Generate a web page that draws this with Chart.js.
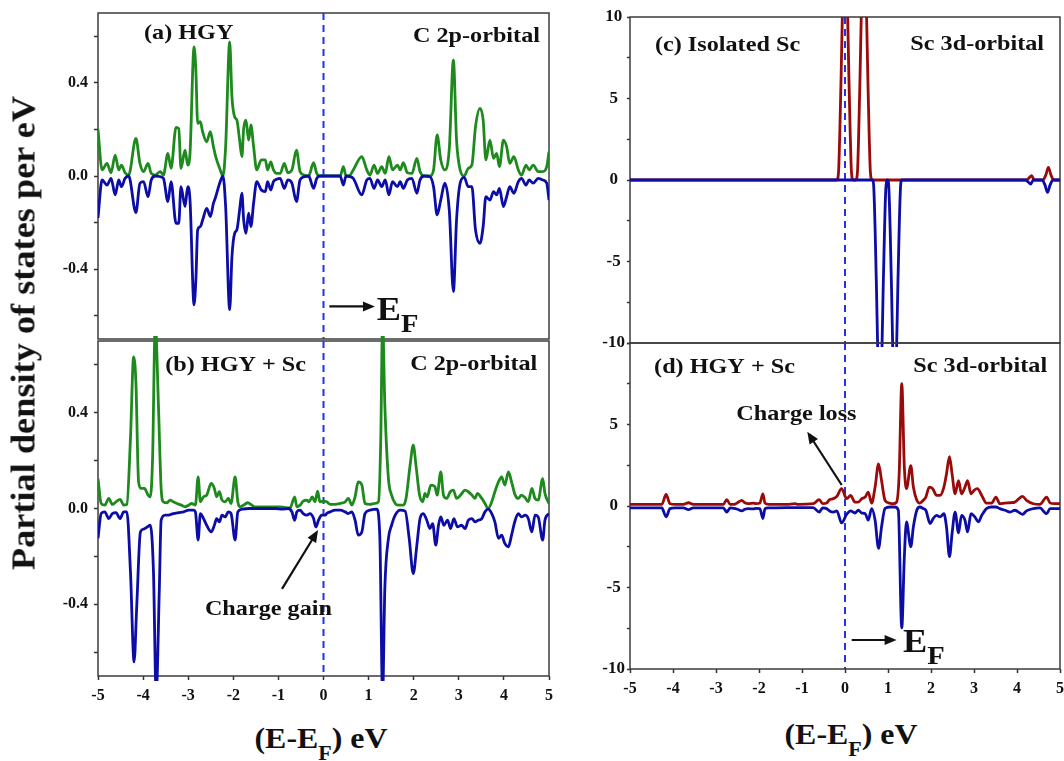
<!DOCTYPE html>
<html>
<head>
<meta charset="utf-8">
<title>PDOS: HGY and HGY + Sc</title>
<script src="https://cdn.jsdelivr.net/npm/chart.js@4.4.0/dist/chart.umd.min.js"></script>
<style>
  html, body { margin: 0; padding: 0; background: #fff; }
  #fig { position: relative; width: 1064px; height: 761px; overflow: hidden;
         font-family: 'Liberation Serif', 'Times New Roman', serif; font-weight: bold; color: #111; }
  #fig canvas { position: absolute; }
  .title { position: absolute; white-space: nowrap; line-height: 1; }
  #ytitle { left: 24px; top: 333px; font-size: 33px; transform: translate(-50%, -50%) rotate(-90deg) scaleX(1.1); }
  .xtitle { font-size: 29px; transform: translateX(-50%) scaleX(1.1); }
  .xtitle .sub { font-size: 20px; vertical-align: -12px; line-height: 1; }
  #xtitleL { left: 321px; top: 724px; }
  #xtitleR { left: 851px; top: 720px; }
</style>
</head>
<body>
<div id="fig">
  <canvas id="panelA"></canvas>
  <canvas id="panelB"></canvas>
  <canvas id="panelC"></canvas>
  <canvas id="panelD"></canvas>
  <div class="title" id="ytitle">Partial density of states per eV</div>
  <div class="title xtitle" id="xtitleL">(E-E<span class="sub">F</span>) eV</div>
  <div class="title xtitle" id="xtitleR">(E-E<span class="sub">F</span>) eV</div>
</div>
<script>
// ---- (a) HGY, C 2p : one energy grid for both spins ----
const energyA = [-5.00,-4.91,-4.80,-4.71,-4.62,-4.54,-4.48,-4.40,-4.32,-4.16,-4.07,-3.99,-3.89,-3.82,-3.73,-3.62,-3.55,-3.45,-3.38,-3.27,
  -3.21,-3.16,-3.07,-3.01,-2.96,-2.87,-2.83,-2.79,-2.73,-2.68,-2.59,-2.51,-2.44,-2.39,-2.29,-2.23,-2.17,-2.08,-2.03,-1.97,
  -1.92,-1.86,-1.81,-1.77,-1.72,-1.66,-1.61,-1.55,-1.48,-1.38,-1.29,-1.24,-1.17,-1.11,-1.04,-0.96,-0.87,-0.79,-0.70,-0.60,
  -0.52,-0.42,-0.33,-0.22,-0.15,-0.08,
  0.00,0.37,0.44,0.50,0.59,0.66,0.85,0.96,1.03,1.12,1.20,1.29,1.37,1.45,1.53,1.64,1.70,1.77,1.86,1.96,
  2.07,2.14,2.23,2.36,2.44,2.52,2.60,2.69,2.79,2.88,2.95,3.03,3.12,3.21,3.29,3.37,3.47,3.54,3.60,3.69,
  3.77,3.84,3.90,3.99,4.06,4.13,4.22,4.32,4.39,4.49,4.56,4.65,4.76,4.86,4.95,5.00];
const spinUpA = [0.20,0.026,0.054,0.014,0.09,0.026,0.047,0.014,0.004,0.161,0.054,0.019,0.054,0.011,0.004,0.019,0.004,0.097,0.033,0.209,
  0.204,0.033,0.111,0.047,0.097,0.554,0.454,0.226,0.233,0.19,0.147,0.19,0.126,0.083,0.026,0.0,0.126,0.576,0.34,0.254,
  0.24,0.154,0.083,0.204,0.24,0.154,0.219,0.126,0.026,0.069,0.069,0.026,0.061,0.026,0.011,0.011,0.054,0.014,0.026,0.111,
  0.019,0.004,0.0,0.057,0.011,0.0,
  0,0,0.04,0,0.004,0.026,0.083,0.026,0.004,0.047,0.011,0.04,0.011,0.083,0.026,0.047,0.026,0.057,0.014,0.011,
  0.076,0.019,0,0,0.026,0.176,0.069,0.026,0.12,0.497,0.154,0.026,0,0.033,0.047,0.211,0.29,0.24,0.069,0.154,
  0.076,0.097,0.04,0.154,0.126,0.054,0.083,0.026,0.004,0.047,0.026,0.047,0.019,0.019,0.04,0.104];
const spinDnA = [-0.18,-0.017,-0.039,-0.01,-0.081,-0.017,-0.046,-0.01,0,-0.157,-0.031,-0.024,-0.089,-0.017,0,-0.003,-0.01,-0.11,-0.024,-0.203,
  -0.203,-0.046,-0.131,-0.046,-0.103,-0.553,-0.446,-0.231,-0.217,-0.189,-0.139,-0.174,-0.117,-0.089,-0.024,0,-0.131,-0.574,-0.346,-0.246,
  -0.231,-0.146,-0.074,-0.189,-0.246,-0.16,-0.217,-0.117,-0.024,-0.06,-0.067,-0.024,-0.06,-0.024,-0.014,-0.01,-0.053,-0.017,-0.031,-0.11,
  -0.017,-0.003,0,-0.053,-0.01,0,
  0,0,-0.039,0,-0.003,-0.01,-0.081,-0.017,-0.01,-0.053,-0.017,-0.046,-0.017,-0.081,-0.024,-0.046,-0.024,-0.053,-0.017,-0.01,
  -0.074,-0.017,0,-0.003,-0.046,-0.167,-0.103,-0.031,-0.15,-0.496,-0.189,-0.031,-0.006,-0.046,-0.046,-0.231,-0.289,-0.217,-0.089,-0.103,
  -0.067,-0.081,-0.053,-0.131,-0.089,-0.046,-0.074,-0.024,-0.01,-0.039,-0.017,-0.031,-0.01,-0.017,-0.031,-0.103];

// ---- (b) HGY + Sc, C 2p ----
const energyUpB = [-5.00,-4.93,-4.85,-4.76,-4.68,-4.60,-4.51,-4.43,-4.36,-4.28,-4.21,-4.16,-4.10,-4.04,-3.97,-3.89,-3.84,-3.79,-3.73,-3.66,
  -3.60,-3.55,-3.47,-3.40,-3.33,-3.25,-3.15,-3.07,-2.99,-2.92,-2.84,-2.78,-2.73,-2.66,-2.59,-2.49,-2.42,-2.37,-2.31,-2.25,
  -2.18,-2.11,-2.05,-1.96,-1.90,-1.85,-1.75,-1.68,-1.59,-1.52,-1.37,-1.22,-1.07,-0.96,-0.85,-0.74,-0.64,-0.59,-0.52,-0.45,
  -0.37,-0.32,-0.25,-0.19,-0.13,-0.08,0.00,
  0.07,0.15,0.26,0.37,0.48,0.55,0.63,0.70,0.77,0.85,0.92,1.03,1.14,1.22,1.27,1.31,1.36,1.44,1.51,1.59,
  1.66,1.77,1.83,1.92,1.99,2.05,2.13,2.20,2.25,2.30,2.38,2.47,2.52,2.60,2.66,2.73,2.81,2.88,2.95,3.04,
  3.14,3.21,3.29,3.36,3.41,3.51,3.58,3.65,3.73,3.80,3.88,3.95,4.02,4.10,4.17,4.25,4.32,4.39,4.47,4.54,
  4.62,4.69,4.76,4.86,4.91,5.00];
const spinUpB = [0.125,0.021,0.014,0.042,0.017,0.028,0.038,0.014,0.017,0.293,0.634,0.53,0.111,0.084,0.084,0.056,0.049,0.209,0.78,0.432,
  0.084,0.028,0.024,0.035,0.028,0.021,0.014,0.007,0.014,0.021,0.014,0.132,0.028,0.049,0.056,0.105,0.084,0.049,0.07,0.035,
  0.028,0.042,0.021,0.132,0.028,0.007,0.017,0.024,0.014,0.007,0.007,0.007,0.007,0.007,0.004,0.003,0.049,0.007,0.014,0.031,
  0.035,0.028,0.049,0.028,0.072,0.028,0.031,
  0.028,0.017,0.017,0.021,0.028,0.042,0.014,0.049,0.111,0.098,0.021,0.017,0.021,0.028,0.293,0.78,0.432,0.125,0.056,0.021,
  0.014,0.014,0.042,0.181,0.265,0.181,0.056,0.028,0.063,0.049,0.098,0.091,0.056,0.153,0.056,0.042,0.07,0.077,0.042,0.056,
  0.077,0.07,0.056,0.042,0.063,0.042,0.021,0.0,0.028,0.07,0.111,0.132,0.098,0.153,0.111,0.056,0.042,0.056,0.045,0.028,
  0.084,0.042,0.035,0.125,0.063,0.021];
const energyDnB = [-5.00,-4.93,-4.85,-4.76,-4.68,-4.60,-4.51,-4.43,-4.36,-4.28,-4.20,-4.14,-4.06,-3.99,-3.91,-3.84,-3.77,-3.71,-3.64,-3.60,
  -3.51,-3.44,-3.33,-3.21,-3.10,-2.99,-2.88,-2.84,-2.78,-2.73,-2.66,-2.59,-2.49,-2.42,-2.37,-2.31,-2.25,-2.18,-2.11,-2.05,
  -1.96,-1.90,-1.81,-1.66,-1.52,-1.37,-1.22,-1.07,-0.92,-0.78,-0.70,-0.64,-0.59,-0.52,-0.45,-0.37,-0.30,-0.22,-0.17,-0.11,
  -0.04,
  0.04,0.07,0.15,0.26,0.37,0.48,0.55,0.63,0.70,0.77,0.85,0.92,1.03,1.18,1.25,1.31,1.36,1.44,1.51,1.59,
  1.70,1.81,1.90,1.99,2.07,2.14,2.21,2.29,2.36,2.42,2.49,2.55,2.60,2.67,2.75,2.82,2.89,2.97,3.06,3.14,
  3.21,3.29,3.36,3.43,3.51,3.58,3.65,3.73,3.80,3.88,3.95,4.02,4.10,4.17,4.25,4.32,4.39,4.47,4.54,4.62,
  4.69,4.76,4.86,4.91,5.00];
const spinDnB = [-0.125,-0.021,-0.014,-0.042,-0.021,-0.017,-0.042,-0.014,-0.014,-0.265,-0.641,-0.404,-0.098,-0.086,-0.077,-0.07,-0.265,-0.78,-0.334,-0.049,
  -0.028,-0.028,-0.021,-0.017,-0.014,-0.007,-0.007,-0.014,-0.132,-0.021,-0.042,-0.07,-0.098,-0.07,-0.042,-0.056,-0.028,-0.035,-0.014,-0.021,
  -0.132,-0.014,-0.003,0,0,0,0,0,-0.003,0,-0.014,-0.049,-0.014,-0.007,-0.021,-0.028,-0.021,-0.042,-0.077,-0.049,
  -0.028,
  -0.028,-0.021,-0.014,-0.007,-0.007,-0.014,-0.021,-0.014,-0.049,-0.111,-0.098,-0.021,-0.007,-0.003,-0.125,-0.78,-0.334,-0.125,-0.07,-0.028,
  -0.007,-0.011,-0.125,-0.272,-0.153,-0.042,-0.021,-0.049,-0.084,-0.063,-0.153,-0.07,-0.035,-0.07,-0.049,-0.084,-0.042,-0.077,-0.07,-0.084,
  -0.049,-0.042,-0.056,-0.049,-0.042,-0.014,-0.003,-0.021,-0.056,-0.125,-0.111,-0.146,-0.16,-0.111,-0.049,-0.021,-0.035,-0.028,-0.042,-0.098,
  -0.028,-0.035,-0.132,-0.049,-0.021];

// ---- (c) isolated Sc, 3d ----
const energyUpC = [-5.00,-0.19,-0.15,-0.12,-0.09,-0.06,-0.03,0.00,0.03,0.06,0.09,0.12,0.15,0.19,0.25,0.29,0.32,0.35,0.38,0.41,
  0.44,0.47,0.50,0.53,0.56,0.59,0.63,4.22,4.28,4.34,4.40,4.60,4.67,4.73,4.79,4.86,5.00];
const spinUpC = [0,0,0.5,3,6.4,10.3,13.4,15,13.4,10.3,6.4,3,0.5,0,0,0.5,3,6.4,10.3,13.4,
  15,13.4,10.3,6.4,3,0.5,0,0,0.12,0.27,0,0,0.3,0.78,0.3,0,0];
const energyDnC = [-5.00,0.64,0.67,0.70,0.73,0.76,0.79,0.81,0.83,0.86,0.89,0.92,0.95,0.99,1.02,1.05,1.08,1.11,1.13,1.15,
  1.17,1.20,1.23,1.26,1.29,1.32,4.20,4.26,4.32,4.38,4.58,4.65,4.71,4.77,4.84,5.00];
const spinDnC = [0,0,-0.5,-3,-6.4,-10.3,-13.4,-15,-13.4,-10.3,-6.4,-3,-0.5,0,-0.5,-3,-6.4,-10.3,-13.4,-15,
  -13.4,-10.3,-6.4,-3,-0.5,0,0,-0.12,-0.25,0,0,-0.3,-0.76,-0.3,0,0];

// ---- (d) HGY + Sc, Sc 3d ----
const energyUpD = [-5.00,-4.26,-4.16,-4.07,-3.95,-3.76,-3.64,-3.53,-2.83,-2.75,-2.67,-2.58,-2.50,-2.40,-2.33,-2.25,-2.13,-2.07,-1.98,-1.91,
  -1.86,-1.78,-1.36,-1.16,-1.09,-0.74,-0.60,-0.52,-0.43,-0.36,-0.27,-0.19,-0.08,
  0.04,0.13,0.23,0.31,0.39,0.47,0.54,0.62,0.70,0.78,0.85,0.93,1.03,1.12,1.20,1.26,1.32,1.38,1.43,1.53,
  1.59,1.67,1.74,1.82,1.88,1.96,2.04,2.13,2.21,2.30,2.36,2.43,2.49,2.56,2.64,2.71,2.79,2.85,2.93,3.00,
  3.08,3.18,3.29,3.41,3.51,3.60,3.72,3.84,3.95,4.13,4.22,4.38,4.53,4.69,4.77,4.88,5.00];
const spinUpD = [0.1,0.1,0.71,0.14,0.1,0.1,0.2,0.1,0.1,0.39,0.1,0.1,0.2,0.35,0.2,0.14,0.18,0.14,0.18,0.75,
  0.18,0.1,0.1,0.14,0.1,0.14,0.39,0.14,0.18,0.39,0.45,0.59,1.06,
  0.45,0.65,0.24,0.24,0.45,0.55,0.85,0.18,1.16,2.58,1.56,0.35,0.18,0.14,0.24,1.97,7.5,2.38,1.06,2.48,
  1.16,0.35,0.18,0.35,0.55,1.16,1.06,0.65,0.65,1.16,1.97,3.03,1.97,0.75,1.56,0.75,1.16,1.56,0.75,0.96,
  1.06,0.65,0.18,0.18,0.55,0.14,0.18,0.2,0.24,0.59,0.35,0.14,0.1,0.55,0.18,0.14,0.14];
const energyDnD = [-5.00,-4.26,-4.16,-4.07,-3.95,-3.76,-3.64,-3.53,-2.83,-2.75,-2.67,-2.58,-2.50,-2.40,-2.33,-2.25,-2.13,-2.07,-1.98,-1.91,
  -1.86,-1.78,-1.36,-1.16,-1.09,-0.74,-0.60,-0.52,-0.43,-0.36,-0.27,-0.19,-0.08,
  0.04,0.13,0.23,0.31,0.39,0.47,0.54,0.62,0.70,0.78,0.85,0.93,1.05,1.16,1.24,1.32,1.38,1.43,1.53,1.59,
  1.67,1.74,1.82,1.88,1.98,2.05,2.13,2.21,2.30,2.36,2.43,2.49,2.56,2.64,2.71,2.79,2.85,2.93,3.02,3.10,
  3.18,3.29,3.41,3.51,3.60,3.72,3.84,3.95,4.13,4.22,4.38,4.53,4.69,4.77,5.00];
const spinDnD = [-0.12,-0.12,-0.67,-0.16,-0.12,-0.12,-0.22,-0.12,-0.12,-0.37,-0.12,-0.14,-0.2,-0.3,-0.2,-0.16,-0.18,-0.14,-0.16,-0.77,
  -0.16,-0.12,-0.1,-0.1,-0.1,-0.1,-0.37,-0.12,-0.16,-0.3,-0.37,-0.3,-1.04,
  -0.5,-0.3,-0.43,-0.26,-0.43,-0.47,-0.87,-0.16,-0.87,-2.6,-1.28,-0.16,-0.06,-0.06,-0.26,-7.48,-3.11,-0.98,-2.5,-1.28,
  -0.26,-0.06,-0.16,-0.26,-1.08,-0.77,-0.57,-0.67,-0.47,-1.28,-3.11,-1.69,-0.37,-1.65,-0.57,-0.87,-1.59,-0.47,-0.67,-0.98,
  -0.57,-0.16,-0.06,-0.06,-0.16,-0.26,-0.37,-0.26,-0.51,-0.3,-0.16,-0.12,-0.47,-0.16,-0.16];

// axis ticks
const energyTicks = [-5,-4,-3,-2,-1,0,1,2,3,4,5];
const c2pTicks = [-0.6,-0.4,-0.2,0,0.2,0.4,0.6];
const c2pLabels = [-0.4,0,0.4];
const sc3dTicks = [-10,-7.5,-5,-2.5,0,2.5,5,7.5,10];
const sc3dLabelsC = [-10,-5,0,5,10];
const sc3dLabelsD = [-10,-5,0,5];

const SERIF = "'Liberation Serif', 'Times New Roman', serif";
const GREEN = '#1e8a1e', BLUE = '#0c0ca6', RED = '#990a0a', FERMI = '#1f33f0';
const STRETCH = 1.1;

Chart.defaults.font.family = SERIF;

const pairs = (es, vs) => es.map((e, i) => ({x: e, y: vs[i]}));

// dashed Fermi level and the box around each panel
const framePlugin = {
  id: 'frame',
  beforeDatasetsDraw(chart) {
    const {ctx, chartArea: a, scales: {x}} = chart;
    ctx.save();
    const xf = x.getPixelForValue(0);
    ctx.strokeStyle = FERMI;
    ctx.lineWidth = 2;
    ctx.setLineDash([7, 5]);
    ctx.beginPath();
    ctx.moveTo(xf, a.top);
    ctx.lineTo(xf, a.bottom);
    ctx.stroke();
    ctx.setLineDash([]);
    ctx.strokeStyle = '#3c3c3c';
    ctx.lineWidth = 1.5;
    ctx.strokeRect(a.left, a.top, a.right - a.left, a.bottom - a.top);
    ctx.restore();
  }
};

// panel labels and arrows, placed in data coordinates
const notesPlugin = {
  id: 'notes',
  afterDraw(chart, args, opts) {
    const {ctx, scales: {x, y}} = chart;
    ctx.save();
    ctx.fillStyle = '#111';
    ctx.strokeStyle = '#111';
    (opts.arrows || []).forEach(a => {
      const x0 = x.getPixelForValue(a.from[0]), y0 = y.getPixelForValue(a.from[1]);
      const x1 = x.getPixelForValue(a.to[0]), y1 = y.getPixelForValue(a.to[1]);
      const ang = Math.atan2(y1 - y0, x1 - x0);
      const c = Math.cos(ang), s = Math.sin(ang), len = 12, half = 5;
      ctx.lineWidth = 2.2;
      ctx.beginPath();
      ctx.moveTo(x0, y0);
      ctx.lineTo(x1 - len * 0.8 * c, y1 - len * 0.8 * s);
      ctx.stroke();
      ctx.beginPath();
      ctx.moveTo(x1, y1);
      ctx.lineTo(x1 - len * c + half * s, y1 - len * s - half * c);
      ctx.lineTo(x1 - len * c - half * s, y1 - len * s + half * c);
      ctx.closePath();
      ctx.fill();
    });
    ctx.textBaseline = 'alphabetic';
    ctx.textAlign = 'left';
    (opts.texts || []).forEach(t => {
      const px = x.getPixelForValue(t.x), py = y.getPixelForValue(t.y);
      ctx.font = `bold ${t.size}px ${SERIF}`;
      const w = ctx.measureText(t.text).width * STRETCH;
      const left = t.align === 'right' ? px - w : px;
      ctx.save();
      ctx.translate(left, py);
      ctx.scale(STRETCH, 1);
      ctx.fillText(t.text, 0, 0);
      ctx.restore();
      if (t.sub) {
        ctx.font = `bold ${t.subSize}px ${SERIF}`;
        ctx.save();
        ctx.translate(left + w, py + 12);
        ctx.scale(STRETCH, 1);
        ctx.fillText(t.sub, 0, 0);
        ctx.restore();
      }
    });
    ctx.restore();
  }
};

function makePanel(id, p) {
  const canvas = document.getElementById(id);
  const w = p.yAxisW + p.area.w + p.pad.right;
  const h = p.pad.top + p.area.h + p.xAxisH + p.pad.bottom;
  canvas.width = w;
  canvas.height = h;
  Object.assign(canvas.style, {
    left: (p.area.x - p.yAxisW) + 'px', top: (p.area.y - p.pad.top) + 'px',
    width: w + 'px', height: h + 'px'
  });
  const noPad = s => { s.paddingTop = 0; s.paddingBottom = 0; s.paddingLeft = 0; s.paddingRight = 0; };
  return new Chart(canvas, {
    type: 'line',
    data: {
      datasets: p.series.map(s => ({
        data: pairs(s.e, s.v),
        borderColor: s.color,
        borderWidth: 2.8,
        borderJoinStyle: 'round',
        pointRadius: 0,
        fill: false,
        cubicInterpolationMode: 'monotone',
        order: s.order,
        clip: p.clip
      }))
    },
    options: {
      responsive: false,
      animation: false,
      devicePixelRatio: 1,
      events: [],
      layout: {padding: {left: 0, top: p.pad.top, right: p.pad.right, bottom: p.pad.bottom}},
      scales: {
        x: {
          type: 'linear', min: -5, max: 5,
          display: p.xAxisH > 0,
          afterBuildTicks: s => { s.ticks = energyTicks.map(v => ({value: v})); },
          afterFit: s => { s.height = p.xAxisH; noPad(s); },
          ticks: {font: {size: 16, weight: 'bold'}, color: '#111', padding: 6, maxRotation: 0, autoSkip: false,
                  callback: v => String(v)},
          grid: {drawOnChartArea: false, tickLength: 4, tickColor: '#333', tickWidth: 1.5},
          border: {display: false}
        },
        y: {
          type: 'linear', min: p.yMin, max: p.yMax,
          afterBuildTicks: s => { s.ticks = p.yTicks.map(v => ({value: v})); },
          afterFit: s => { s.width = p.yAxisW; noPad(s); },
          ticks: {font: {size: p.tickSize, weight: 'bold'}, color: '#111', padding: p.tickPad, autoSkip: false,
                  crossAlign: p.crossAlign,
                  callback: v => p.yLabels.includes(v) ? p.fmt(v) : ''},
          grid: {drawOnChartArea: false, tickLength: p.tickLen, tickColor: '#333', tickWidth: 1.5},
          border: {display: false}
        }
      },
      plugins: {
        legend: {display: false},
        tooltip: {enabled: false},
        notes: p.notes
      }
    },
    plugins: [framePlugin, notesPlugin]
  });
}

const c2pAxis = {yMin: -0.7, yMax: 0.7, yTicks: c2pTicks, yLabels: c2pLabels, fmt: v => v.toFixed(1),
                 yAxisW: 60, tickSize: 16, tickPad: 6, tickLen: 4, crossAlign: 'near'};
const sc3dAxis = {yMin: -10, yMax: 10, yTicks: sc3dTicks, fmt: v => String(v),
                  yAxisW: 45, tickSize: 17, tickPad: 2, tickLen: 3, crossAlign: 'center'};

makePanel('panelA', Object.assign({}, c2pAxis, {
  area: {x: 98, y: 13, w: 451, h: 326}, xAxisH: 0, pad: {top: 4, right: 8, bottom: 4},
  clip: {left: 0, top: 1, right: 0, bottom: 1},
  series: [
    {e: energyA, v: spinUpA, color: GREEN, order: 1},
    {e: energyA, v: spinDnA, color: BLUE, order: 0}
  ],
  notes: {
    texts: [
      {text: '(a) HGY', x: -3.98, y: 0.587, size: 22},
      {text: 'C 2p-orbital', x: 4.80, y: 0.577, size: 22, align: 'right'},
      {text: 'E', sub: 'F', subSize: 26, x: 1.18, y: -0.617, size: 33}
    ],
    arrows: [{from: [0.13, -0.56], to: [1.14, -0.56]}]
  }
}));

makePanel('panelB', Object.assign({}, c2pAxis, {
  area: {x: 98, y: 341, w: 451, h: 335}, xAxisH: 34, pad: {top: 8, right: 8, bottom: 2},
  clip: {left: 0, top: 5, right: 0, bottom: 5},
  series: [
    {e: energyUpB, v: spinUpB, color: GREEN, order: 1},
    {e: energyDnB, v: spinDnB, color: BLUE, order: 0}
  ],
  notes: {
    texts: [
      {text: '(b) HGY + Sc', x: -3.51, y: 0.573, size: 22},
      {text: 'C 2p-orbital', x: 4.74, y: 0.58, size: 22, align: 'right'},
      {text: 'Charge gain', x: -2.63, y: -0.445, size: 22}
    ],
    arrows: [{from: [-0.92, -0.336], to: [-0.12, -0.09]}]
  }
}));

makePanel('panelC', Object.assign({}, sc3dAxis, {
  yLabels: sc3dLabelsC,
  area: {x: 630, y: 17, w: 430, h: 326}, xAxisH: 0, pad: {top: 10, right: 8, bottom: 10},
  clip: {left: 0, top: 0, right: 0, bottom: 4},
  series: [
    {e: energyUpC, v: spinUpC, color: RED, order: 1},
    {e: energyDnC, v: spinDnC, color: BLUE, order: 0}
  ],
  notes: {
    texts: [
      {text: '(c) Isolated Sc', x: -4.42, y: 7.93, size: 22},
      {text: 'Sc 3d-orbital', x: 4.63, y: 7.98, size: 22, align: 'right'}
    ]
  }
}));

makePanel('panelD', Object.assign({}, sc3dAxis, {
  yLabels: sc3dLabelsD,
  area: {x: 630, y: 343, w: 430, h: 326}, xAxisH: 34, pad: {top: 4, right: 8, bottom: 2},
  clip: {left: 0, top: 1, right: 0, bottom: 1},
  series: [
    {e: energyUpD, v: spinUpD, color: RED, order: 1},
    {e: energyDnD, v: spinDnD, color: BLUE, order: 0}
  ],
  notes: {
    texts: [
      {text: '(d) HGY + Sc', x: -4.44, y: 8.18, size: 22},
      {text: 'Sc 3d-orbital', x: 4.70, y: 8.24, size: 22, align: 'right'},
      {text: 'Charge loss', x: -2.53, y: 5.28, size: 22},
      {text: 'E', sub: 'F', subSize: 26, x: 1.35, y: -8.96, size: 33}
    ],
    arrows: [
      {from: [-0.077, 1.29], to: [-0.877, 4.56]},
      {from: [0.155, -8.22], to: [1.2, -8.22]}
    ]
  }
}));
</script>
</body>
</html>
